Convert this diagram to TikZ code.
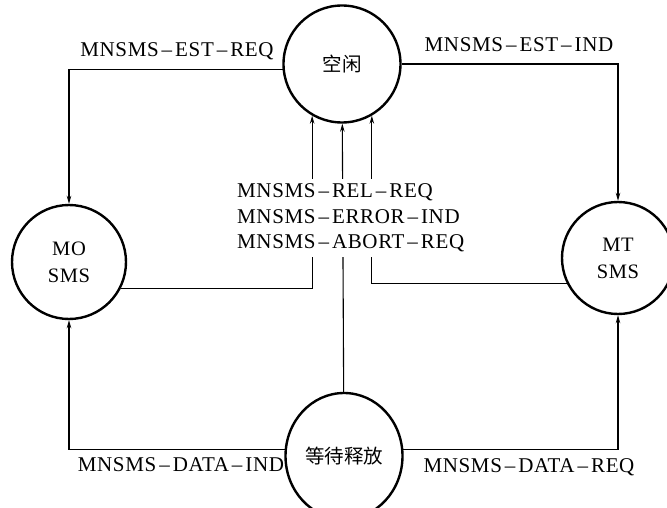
\documentclass[tikz,border=0pt]{standalone}
\usepackage{fontspec}
\setmainfont{Liberation Serif}
\newfontfamily\cjkfont{Noto Sans CJK SC}
\newfontfamily\labelfont[LetterSpace=3]{Liberation Serif}
\usetikzlibrary{arrows.meta,shapes.geometric}
% spaced dash between the parts of a primitive name
\newcommand\dsh{\kern3pt–\kern3pt}

\begin{document}
\begin{tikzpicture}[x=1pt,y=-1pt,
  state/.style={circle,draw,line width=2.4pt,inner sep=0pt,minimum size=#1},
  flow/.style={line width=1.1pt},
  arr/.style={flow,-{Stealth[length=8pt,width=4.5pt]}},
  msg/.style={font=\labelfont\fontsize{21}{25.5}\selectfont,inner sep=1pt},
  cjk/.style={font=\cjkfont\fontsize{19.5}{22}\selectfont},
  sms/.style={font=\labelfont\fontsize{20.5}{27}\selectfont,align=center},
]
\useasboundingbox (0,0) rectangle (667,508);

% states
\node[state=117pt,cjk] (idle) at (342,64) {空闲};
\node[state=114pt,sms] (mo) at (69,262) {MO\\SMS};
\node[state=112pt,sms] (mt) at (618,258) {MT\\SMS};
\node[ellipse,draw,line width=2.4pt,inner sep=0pt,minimum width=117pt,
      minimum height=126pt,cjk] (wait) at (344,456) {等待释放};

% transitions
\draw[arr] (idle.185) -| (mo.north);
\draw[arr] (idle.east) -| (mt.north);
\draw[arr] (mo.-27) -| (idle.-120);
\draw[arr] (wait) -- (idle);
\draw[arr] (mt.206) -| (idle.-60);
\draw[arr] (wait.174) -| (mo.south);
\draw[arr] (wait.6) -| (mt.south);

% primitive labels
\node[msg] (estreq) at (177,51) {MNSMS\dsh EST\dsh REQ};
\node[msg] (estind) at (519,45) {MNSMS\dsh EST\dsh IND};
\node[msg,fill=white,align=left,inner sep=5pt,anchor=west] (release) at (232,218)
  {MNSMS\dsh REL\dsh REQ\\MNSMS\dsh ERROR\dsh IND\\MNSMS\dsh ABORT\dsh REQ};
\node[msg] (dataind) at (181,465) {MNSMS\dsh DATA\dsh IND};
\node[msg] (datareq) at (529,467) {MNSMS\dsh DATA\dsh REQ};
\end{tikzpicture}
\end{document}
